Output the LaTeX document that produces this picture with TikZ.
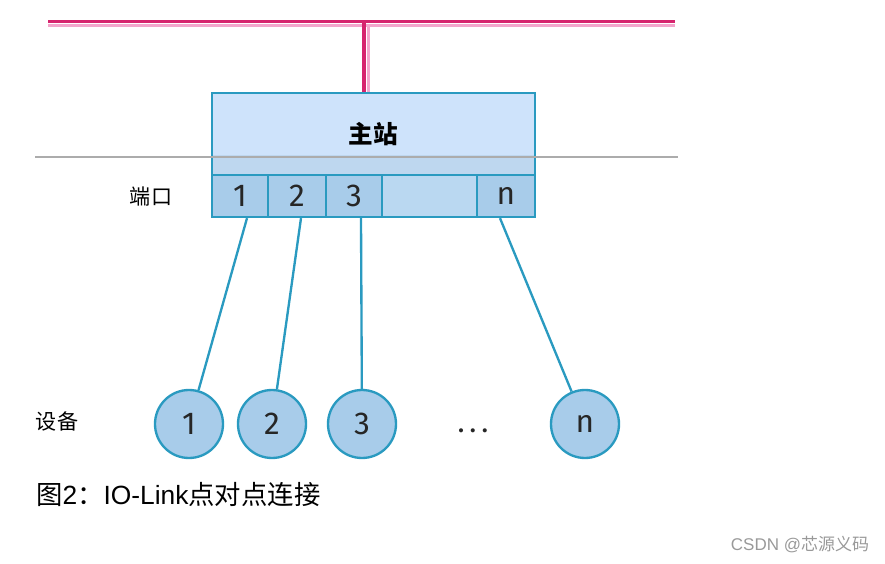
\documentclass[tikz,border=0pt]{standalone}
\usepackage{fontspec}
\setmainfont{Liberation Sans}
\newfontfamily\cjk{Noto Sans CJK SC}
\newfontfamily\numfont{Fira Sans}
\usetikzlibrary{positioning,calc}
\definecolor{busdark}{RGB}{214,36,110}
\definecolor{buslight}{RGB}{244,165,204}
\definecolor{edgeblue}{RGB}{42,154,192}
\definecolor{mastertop}{RGB}{206,227,251}
\definecolor{masterband}{RGB}{190,215,239}
\definecolor{portblue}{RGB}{168,204,234}
\definecolor{portempty}{RGB}{186,216,241}

\begin{document}
\begin{tikzpicture}[x=0.03cm,y=-0.03cm,line join=miter,
   port/.style={draw=edgeblue,line width=2pt,fill=portblue,inner sep=0pt,text=black!85,
                minimum height=1.26cm,font=\numfont\fontsize{27}{27}\selectfont},
   dev/.style={circle,draw=edgeblue,line width=2pt,fill=portblue,inner sep=0pt,text=black!85,
               minimum size=2.04cm,font=\numfont\fontsize{27}{27}\selectfont},
   link/.style={draw=edgeblue,line width=2pt},
   lbl/.style={font=\cjk\fontsize{18}{18}\selectfont}]
  \useasboundingbox (0,0) rectangle (885,564);
  % bus
  \coordinate (busL) at (48,21.5);
  \coordinate (busR) at (675,21.5);
  \coordinate (dropL) at (364,22);
  \coordinate (dropR) at (368.5,25);
  \draw[buslight,line width=2.4pt] ([yshift=-0.13cm]busL) -- ([yshift=-0.13cm]busR);
  \draw[busdark,line width=3.4pt] (busL) -- (busR);
  % master
  \node[draw=edgeblue,line width=2pt,fill=mastertop,minimum width=9.69cm,minimum height=2.46cm,
        path picture={\fill[masterband] ($(path picture bounding box.south west)+(0,-20)$)
                      rectangle (path picture bounding box.south east);},
        font=\cjk\bfseries\fontsize{21}{21}\selectfont] (master) at (373.5,134) {主站};
  \draw[buslight,line width=2.6pt] (dropR) -- (dropR |- master.north);
  \draw[busdark,line width=3pt] (dropL) -- (dropL |- master.north);
  \draw[gray!65,line width=1.2pt] (35,157) -- (678,157);
  % ports
  \node[port,minimum width=1.68cm] (p1) at (240,196) {1};
  \node[port,minimum width=1.74cm] (p2) at (297,196) {2};
  \node[port,minimum width=1.68cm] (p3) at (354,196) {3};
  \node[port,fill=portempty,minimum width=2.85cm] (pe) at (429.5,196) {};
  \node[port,minimum width=1.74cm] (pn) at (506,196) {n};
  \node[lbl] (portlbl) at (151,197) {端口};
  % devices
  \node[dev] (d1) at (189,424) {1};
  \node[dev] (d2) at (272,424) {2};
  \node[dev] (d3) at (362,424) {3};
  \node[font=\numfont\fontsize{25}{25}\selectfont,text=black!85] (dots) at (473,431) {.\,.\,.};
  \node[dev] (dn) at (585,424) {n};
  \node[lbl] (devlbl) at (57,421) {设备};
  \draw[link] ([xshift=0.21cm]p1.south) -- (d1);
  \draw[link] ([xshift=0.12cm]p2.south) -- (d2);
  \draw[link] ([xshift=0.21cm]p3.south) -- (d3);
  \draw[link] ([xshift=-0.18cm]pn.south) -- (dn);
  % caption
  \node[anchor=west,inner sep=0pt,font=\fontsize{22.5}{22.5}\selectfont] (cap) at (36,495)
       {{\cjk 图}2{\cjk ：}IO-Link{\cjk 点对点连接}};
  \node[font=\fontsize{14.5}{14.5}\selectfont,text=gray!80] (mark) at (800,545) {CSDN @{\cjk 芯源义码}};
\end{tikzpicture}
\end{document}
